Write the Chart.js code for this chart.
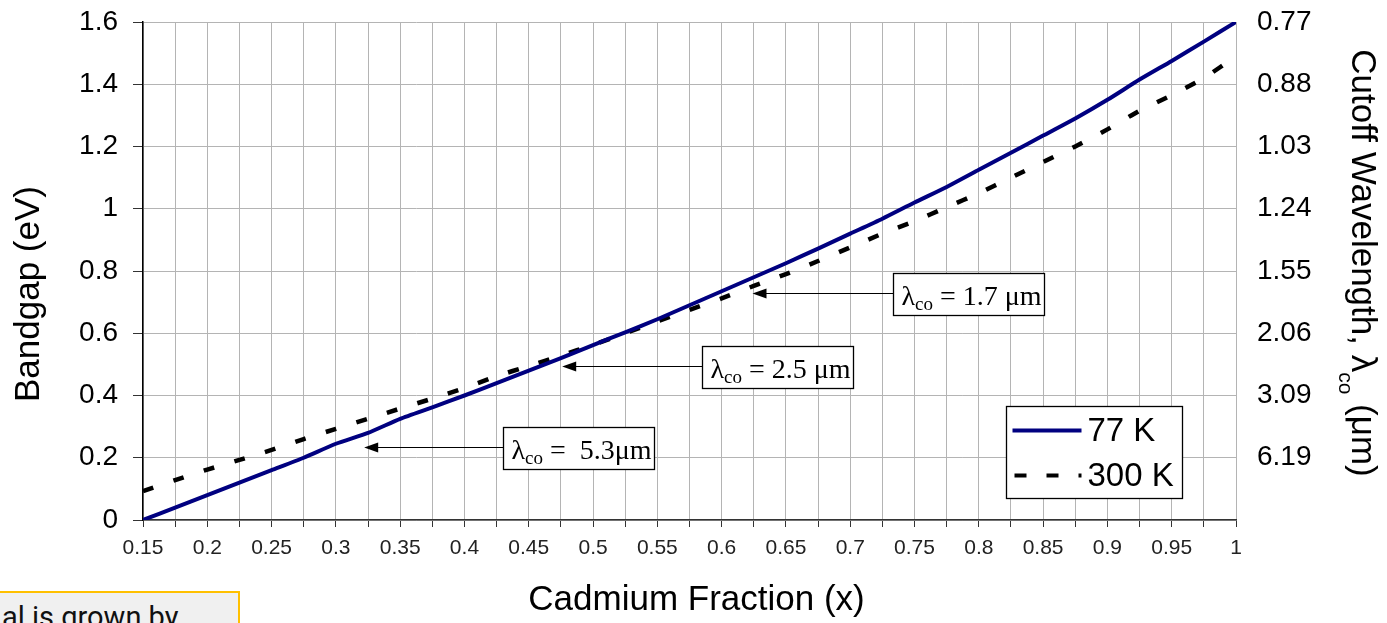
<!DOCTYPE html>
<html>
<head>
<meta charset="utf-8">
<script src="https://cdn.jsdelivr.net/npm/chart.js@4.4.0/dist/chart.umd.min.js"></script>
<style>
  html, body { margin: 0; padding: 0; background: #fff; overflow: hidden; }
  #wrap { position: relative; width: 1387px; height: 623px; }
  #note {
    position: absolute; left: -6px; top: 591px; width: 246px; height: 50px;
    box-sizing: border-box; border: 2px solid #ffc000; background: #f0f0f0;
    font-family: Roboto, 'Liberation Sans', sans-serif; font-size: 29px;
    padding: 7px 0 0 6px; white-space: nowrap; overflow: hidden; color: #111;
  }
</style>
</head>
<body>
<div id="wrap">
  <canvas id="bandgap-chart" width="1387" height="623"></canvas>
  <div id="note">al is grown by</div>
</div>
<script>
// cadmium fraction x, one point per grid step
var cadmium = [0.15, 0.175, 0.2, 0.225, 0.25, 0.275, 0.3, 0.325, 0.35, 0.375,
  0.4, 0.425, 0.45, 0.475, 0.5, 0.525, 0.55, 0.575, 0.6, 0.625,
  0.65, 0.675, 0.7, 0.725, 0.75, 0.775, 0.8, 0.825, 0.85, 0.875,
  0.9, 0.925, 0.95, 0.975, 1.0];

// bandgap (eV)
var gap77 = [0.0, 0.04, 0.08, 0.12, 0.16, 0.2, 0.245, 0.28, 0.325, 0.362,
  0.4, 0.44, 0.48, 0.52, 0.562, 0.603, 0.645, 0.69, 0.735, 0.78,
  0.825, 0.872, 0.92, 0.968, 1.02, 1.07, 1.125, 1.18, 1.235, 1.29,
  1.35, 1.415, 1.475, 1.537, 1.6];

var gap300 = [0.093, 0.128, 0.162, 0.193, 0.225, 0.26, 0.293, 0.325, 0.358, 0.39,
  0.424, 0.462, 0.495, 0.528, 0.563, 0.6, 0.638, 0.675, 0.712, 0.752,
  0.79, 0.832, 0.876, 0.92, 0.96, 1.005, 1.05, 1.1, 1.15, 1.2,
  1.255, 1.315, 1.365, 1.42, 1.49];

// right axis labels, bottom to top (0 .. 1.6 eV)
var cutoffLabels = ['', '6.19', '3.09', '2.06', '1.55', '1.24', '1.03', '0.88', '0.77'];

var seriesNames = ['77 K', '300 K'];

// arrow callouts: tip (x, eV) and left edge of the label box (x)
var callouts = [
  { text: ' = 1.7 \u03bcm', tipX: 0.624, tipY: 0.729, boxX: 0.733 },
  { text: ' = 2.5 \u03bcm', tipX: 0.476, tipY: 0.496, boxX: 0.585 },
  { text: ' =  5.3\u03bcm', tipX: 0.322, tipY: 0.234, boxX: 0.43 }
];

var SANS = "'Liberation Sans', Arial, sans-serif";
var SERIF = "'Liberation Serif', 'Times New Roman', serif";

function toPoints(ys) {
  return cadmium.map(function (x, i) { return { x: x, y: ys[i] }; });
}

function fmt(v) {
  return String(Number(v.toFixed(3)));
}

var extras = {
  id: 'extras',
  afterDatasetsDraw: function (chart) {
    var ctx = chart.ctx;
    var xs = chart.scales.x, ys = chart.scales.y;
    var area = chart.chartArea;
    ctx.save();

    // callouts
    callouts.forEach(function (c) {
      var tx = xs.getPixelForValue(c.tipX);
      var ty = Math.round(ys.getPixelForValue(c.tipY)) + 0.5;
      var bx = Math.round(xs.getPixelForValue(c.boxX)) + 0.5;
      ctx.strokeStyle = '#000';
      ctx.lineWidth = 1.2;
      ctx.beginPath();
      ctx.moveTo(bx, ty);
      ctx.lineTo(tx + 10, ty);
      ctx.stroke();
      ctx.fillStyle = '#000';
      ctx.beginPath();
      ctx.moveTo(tx, ty);
      ctx.lineTo(tx + 14, ty - 5);
      ctx.lineTo(tx + 14, ty + 5);
      ctx.closePath();
      ctx.fill();

      var bw = 151, bh = 42, bt = Math.round(ty - 21) + 0.5;
      ctx.fillStyle = '#fff';
      ctx.fillRect(bx, bt, bw, bh);
      ctx.lineWidth = 1.3;
      ctx.strokeRect(bx, bt, bw, bh);

      ctx.fillStyle = '#000';
      ctx.textBaseline = 'alphabetic';
      ctx.textAlign = 'left';
      var px = bx + 8, base = ty + 11;
      ctx.font = '28px ' + SERIF;
      ctx.fillText('\u03bb', px, base);
      px += ctx.measureText('\u03bb').width;
      ctx.font = '19px ' + SERIF;
      ctx.fillText('co', px, base + 5);
      px += ctx.measureText('co').width;
      ctx.font = '28px ' + SERIF;
      ctx.fillText(c.text, px, base);
    });

    // legend box
    var lx = area.right - 229.5, lt = area.top + 384.5;
    ctx.fillStyle = '#fff';
    ctx.fillRect(lx, lt, 176, 92);
    ctx.strokeStyle = '#000';
    ctx.lineWidth = 1.3;
    ctx.strokeRect(lx, lt, 176, 92);

    ctx.lineWidth = 4;
    ctx.strokeStyle = '#000080';
    ctx.beginPath();
    ctx.moveTo(lx + 6, lt + 24);
    ctx.lineTo(lx + 75, lt + 24);
    ctx.stroke();
    ctx.strokeStyle = '#000';
    ctx.setLineDash([12, 20]);
    ctx.beginPath();
    ctx.moveTo(lx + 8, lt + 69);
    ctx.lineTo(lx + 75, lt + 69);
    ctx.stroke();
    ctx.setLineDash([]);

    ctx.fillStyle = '#000';
    ctx.font = '33px ' + SANS;
    ctx.textBaseline = 'alphabetic';
    ctx.fillText(seriesNames[0], lx + 81, lt + 34);
    ctx.fillText(seriesNames[1], lx + 81, lt + 79);
    ctx.restore();
  },
  afterDraw: function (chart) {
    var ctx = chart.ctx;
    var area = chart.chartArea;
    ctx.save();
    ctx.fillStyle = '#000';

    // x title
    ctx.font = '35px ' + SANS;
    ctx.textAlign = 'center';
    ctx.textBaseline = 'middle';
    ctx.fillText('Cadmium Fraction (x)', (area.left + area.right) / 2 + 7, 600);

    // left title
    ctx.save();
    ctx.translate(29, 294);
    ctx.rotate(-Math.PI / 2);
    ctx.fillText('Bandgap (eV)', 0, 0);
    ctx.restore();

    // right title with subscript
    var parts = [
      { t: 'Cutoff Wavelength, \u03bb', size: 35, dy: 0 },
      { t: 'co', size: 21, dy: 13 },
      { t: ' (\u03bcm)', size: 35, dy: 0 }
    ];
    var total = 0;
    parts.forEach(function (p) {
      ctx.font = p.size + 'px ' + SANS;
      p.w = ctx.measureText(p.t).width;
      total += p.w;
    });
    ctx.save();
    ctx.translate(1352, 263);
    ctx.rotate(Math.PI / 2);
    ctx.textAlign = 'left';
    ctx.textBaseline = 'alphabetic';
    var cx = -total / 2;
    parts.forEach(function (p) {
      ctx.font = p.size + 'px ' + SANS;
      ctx.fillText(p.t, cx, p.dy);
      cx += p.w;
    });
    ctx.restore();
    ctx.restore();
  }
};

function fixWidth(w) {
  return function (s) {
    s.width = w;
    s.paddingTop = 0;
    s.paddingBottom = 0;
  };
}

Chart.defaults.color = '#000';
Chart.defaults.font.family = SANS;

var config = {
  type: 'line',
  data: {
    datasets: [
      {
        label: seriesNames[0],
        data: toPoints(gap77),
        borderColor: '#000080',
        borderWidth: 4,
        pointRadius: 0,
        tension: 0.2,
        yAxisID: 'y'
      },
      {
        label: seriesNames[1],
        data: toPoints(gap300),
        borderColor: '#000',
        borderWidth: 4.5,
        borderDash: [11, 21],
        borderCapStyle: 'butt',
        pointRadius: 0,
        tension: 0.2,
        yAxisID: 'y'
      }
    ]
  },
  options: {
    responsive: false,
    animation: false,
    layout: { padding: { top: 22, left: 0, right: 0, bottom: 0 } },
    plugins: {
      legend: { display: false },
      tooltip: { enabled: false }
    },
    scales: {
      x: {
        type: 'linear',
        min: 0.15,
        max: 1,
        afterFit: function (s) { s.height = 103; },
        grid: { color: '#b4b4b4', lineWidth: 1, tickLength: 7, tickColor: '#333' },
        border: { color: '#333', width: 1.5 },
        ticks: {
          stepSize: 0.025,
          autoSkip: false,
          maxRotation: 0,
          padding: 9,
          color: '#222',
          font: { size: 21 },
          callback: function (v, i) { return i % 2 === 0 ? fmt(v) : ''; }
        }
      },
      y: {
        position: 'left',
        min: 0,
        max: 1.6,
        afterFit: fixWidth(143),
        grid: { color: '#b4b4b4', lineWidth: 1, tickLength: 10, tickColor: '#333' },
        border: { color: '#000', width: 1.5 },
        ticks: {
          stepSize: 0.2,
          padding: 15,
          font: { size: 28 },
          callback: function (v) { return fmt(v); }
        }
      },
      y2: {
        position: 'right',
        min: 0,
        max: 1.6,
        afterFit: fixWidth(151),
        grid: { display: false, drawTicks: false },
        border: { display: false },
        ticks: {
          stepSize: 0.2,
          padding: 21,
          font: { size: 28 },
          callback: function (v, i) { return cutoffLabels[i]; }
        }
      }
    }
  },
  plugins: [extras]
};

var ctx = document.getElementById('bandgap-chart').getContext('2d');
var bandgapChart = new Chart(ctx, config);
</script>
</body>
</html>
